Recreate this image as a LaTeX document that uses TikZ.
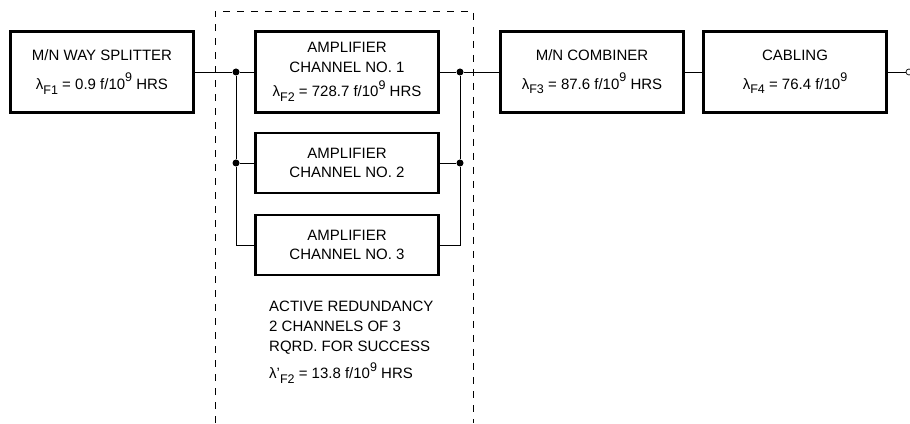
\documentclass[tikz,border=0pt]{standalone}
\usepackage{fontspec}
\setmainfont{Liberation Sans}
\usetikzlibrary{positioning}
\newcommand{\lsub}[1]{\raisebox{-0.6ex}{\fontsize{12.5}{12.5}\selectfont #1}}
\newcommand{\nine}{\raisebox{0.95ex}{\fontsize{12.5}{12.5}\selectfont 9}}

\begin{document}
\begin{tikzpicture}[
    x=1pt, y=1pt,
    block/.style={draw, line width=2.2pt, minimum width=183pt, font=\fontsize{15}{19.5}\selectfont, align=center, inner sep=2pt},
    tallblock/.style={block, minimum height=81pt},
    ampblock/.style={block, minimum height=60pt},
    note/.style={font=\fontsize{15}{20}\selectfont, align=left, inner sep=0pt},
    wire/.style={line width=0.7pt},
    dot/.style={circle, fill, inner sep=0pt, minimum size=7pt},
    groupline/.style={line width=0.7pt, dash pattern=on 7pt off 7pt},
]
\useasboundingbox (0,0) rectangle (910,423);
\fill[white] (0,0) rectangle (910,423);

% Splitter
\node[tallblock] (split) at (102,351) {M/N WAY SPLITTER\\[9pt]λ\lsub{F1} = 0.9 f/10\nine{} HRS};

% Redundant amplifier group
\draw[groupline] (215,0) -- (215,412) -- (473,412) -- (473,0);
\node[tallblock] (amp1) at (347,351) {AMPLIFIER\\CHANNEL NO. 1\\[5pt]λ\lsub{F2} = 728.7 f/10\nine{} HRS};
\node[ampblock] (amp2) at (347,260) {AMPLIFIER\\CHANNEL NO. 2};
\node[ampblock] (amp3) at (347,178) {AMPLIFIER\\CHANNEL NO. 3};
\node[note, anchor=north west] (note) at (269,122) {ACTIVE REDUNDANCY\\2 CHANNELS OF 3\\RQRD. FOR SUCCESS\\[7pt]λ'\lsub{F2} = 13.8 f/10\nine{} HRS};

\node[dot] (inA) at (236,351) {};
\node[dot] (inB) at (236,260) {};
\node[dot] (outA) at (460,351) {};
\node[dot] (outB) at (460,260) {};

% Combiner and cabling
\node[tallblock] (comb) at (592,351) {M/N COMBINER\\[9pt]λ\lsub{F3} = 87.6 f/10\nine{} HRS};
\node[tallblock] (cab) at (795,351) {CABLING\\[9pt]λ\lsub{F4} = 76.4 f/10\nine};
\node[circle, draw, line width=0.7pt, inner sep=0pt, minimum size=6pt] (term) at (909,351) {};

% Connections
\draw[wire] (split.east) -- (inA) -- (amp1.west);
\draw[wire] (inA) -- (inB) -- (amp2.west);
\draw[wire] (inB) |- (amp3.west);
\draw[wire] (amp1.east) -- (outA) -- (comb.west);
\draw[wire] (outA) -- (outB) -- (amp2.east);
\draw[wire] (outB) |- (amp3.east);
\draw[wire] (comb.east) -- (cab.west);
\draw[wire] (cab.east) -- (term);

\end{tikzpicture}
\end{document}
